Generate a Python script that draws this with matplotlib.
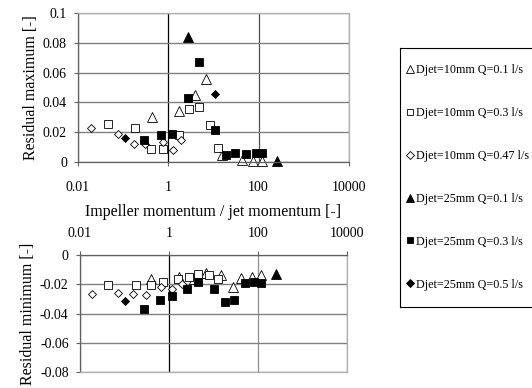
import matplotlib
matplotlib.use('Agg')
import matplotlib.pyplot as plt
from matplotlib.lines import Line2D

plt.rcParams['font.family'] = ['Liberation Serif', 'DejaVu Serif']

labels = ['Djet=10mm Q=0.1 l/s', 'Djet=10mm Q=0.3 l/s', 'Djet=10mm Q=0.47 l/s',
          'Djet=25mm Q=0.1 l/s', 'Djet=25mm Q=0.3 l/s', 'Djet=25mm Q=0.5 l/s']

# residual maximum (top panel)
max_tri_open_x = [0.43, 1.7, 3.85, 6.9, 15.5, 43, 75, 117]
max_tri_open_y = [0.030, 0.034, 0.045, 0.056, 0.0045, 0.0016, 0.0007, 0.0007]
max_sq_open_x = [0.047, 0.185, 0.41, 0.75, 1.75, 2.93, 4.9, 8.3, 12.7]
max_sq_open_y = [0.0254, 0.0225, 0.009, 0.009, 0.018, 0.0355, 0.037, 0.0247, 0.0097]
max_dia_open_x = [0.019, 0.076, 0.175, 0.31, 0.75, 1.27, 1.95]
max_dia_open_y = [0.023, 0.019, 0.012, 0.012, 0.0135, 0.0079, 0.015]
max_tri_fill_x = [2.7, 260]
max_tri_fill_y = [0.0836, 0.0007]
max_sq_fill_x = [0.29, 0.69, 1.21, 2.69, 4.9, 10.7, 19, 30, 54, 86, 121]
max_sq_fill_y = [0.0146, 0.018, 0.0187, 0.0428, 0.0674, 0.0214, 0.0045, 0.0057, 0.0052, 0.0063, 0.0063]
max_dia_fill_x = [0.11, 11]
max_dia_fill_y = [0.0158, 0.0455]

# residual minimum (bottom panel)
min_tri_open_x = [0.40, 1.7, 3.6, 6.9, 15, 27, 42, 73, 115]
min_tri_open_y = [-0.0161, -0.0148, -0.0161, -0.012, -0.0137, -0.0219, -0.0155, -0.0148, -0.0137]
min_sq_open_x = [0.044, 0.18, 0.40, 0.73, 1.59, 2.9, 4.6, 8.2, 12.6]
min_sq_open_y = [-0.0207, -0.0207, -0.0205, -0.0185, -0.0166, -0.0148, -0.0132, -0.0137, -0.0166]
min_dia_open_x = [0.019, 0.074, 0.16, 0.30, 0.68, 1.19, 2.0]
min_dia_open_y = [-0.0264, -0.0257, -0.0268, -0.0275, -0.0219, -0.023, -0.0195]
min_tri_fill_x = [257]
min_tri_fill_y = [-0.0132]
min_sq_fill_x = [0.28, 0.64, 1.17, 2.6, 4.5, 10.2, 18.5, 29, 52, 84, 115]
min_sq_fill_y = [-0.0367, -0.0308, -0.028, -0.0235, -0.0185, -0.0235, -0.0321, -0.031, -0.0193, -0.0182, -0.019]
min_dia_fill_x = [0.105]
min_dia_fill_y = [-0.0317]

x_ticks = [0.01, 1, 100, 10000]
x_ticklabels = ['0.01', '1', '100', '10000']
max_yticks = [0, 0.02, 0.04, 0.06, 0.08, 0.1]
max_yticklabels = ['0', '0.02', '0.04', '0.06', '0.08', '0.1']
min_yticks = [0, -0.02, -0.04, -0.06, -0.08]
min_yticklabels = ['0', '-0.02', '-0.04', '-0.06', '-0.08']

styles = [('^', 'white', 6.5), ('s', 'white', 6), ('D', 'white', 4.5),
          ('^', 'black', 6.5), ('s', 'black', 6), ('D', 'black', 4.5)]

fig = plt.figure(figsize=(5.32, 3.88), dpi=100)
ax1 = fig.add_axes([0.1466, 0.5825, 0.509, 0.384])
ax2 = fig.add_axes([0.150, 0.0412, 0.502, 0.3015])


def style_axes(ax, yticks, yticklabels, ylim, xpad):
    ax.set_xscale('log')
    ax.set_xlim(0.01, 10000)
    ax.set_ylim(*ylim)
    ax.set_xticks(x_ticks)
    ax.set_xticklabels(x_ticklabels)
    ax.xaxis.set_minor_locator(matplotlib.ticker.NullLocator())
    ax.set_yticks(yticks)
    ax.set_yticklabels(yticklabels)
    ax.tick_params(labelsize=10, length=3, width=0.8, color='#606060')
    ax.tick_params(axis='y', pad=5)
    ax.tick_params(axis='x', pad=xpad)
    ax.set_axisbelow(True)
    ax.grid(axis='y', color='#808080', lw=1.0)
    ax.grid(axis='x', color='#505050', lw=0.9)
    ax.get_xgridlines()[1].set_color('black')
    for s in ax.spines.values():
        s.set_color('#b0b0b0')
        s.set_linewidth(0.9)
    ax.spines['left'].set_color('#606060')


def plot_set(ax, data):
    for (xs, ys), (m, fc, ms) in zip(data, styles):
        ax.plot(xs, ys, ls='none', marker=m, mfc=fc, mec='black', ms=ms, mew=0.6, clip_on=False)


style_axes(ax1, max_yticks, max_yticklabels, (0, 0.1), 11)
ax1.spines['bottom'].set_color('#606060')
plot_set(ax1, [(max_tri_open_x, max_tri_open_y), (max_sq_open_x, max_sq_open_y),
               (max_dia_open_x, max_dia_open_y), (max_tri_fill_x, max_tri_fill_y),
               (max_sq_fill_x, max_sq_fill_y), (max_dia_fill_x, max_dia_fill_y)])
ax1.set_ylabel('Residual maximum [-]', fontsize=11.5, labelpad=3)
ax1.set_xlabel('Impeller momentum / jet momentum [-]', fontsize=11.5, labelpad=7)

style_axes(ax2, min_yticks, min_yticklabels, (-0.08, 0), 7.5)
ax2.xaxis.tick_top()
ax2.spines['top'].set_color('#606060')
ax2.get_xgridlines()[2].set_color('#909090')
plot_set(ax2, [(min_tri_open_x, min_tri_open_y), (min_sq_open_x, min_sq_open_y),
               (min_dia_open_x, min_dia_open_y), (min_tri_fill_x, min_tri_fill_y),
               (min_sq_fill_x, min_sq_fill_y), (min_dia_fill_x, min_dia_fill_y)])
ax2.set_ylabel('Residual minimum [-]', fontsize=11.5, labelpad=3)

# legend box
axl = fig.add_axes([400 / 532, 1 - 307 / 388, 0.3, (307 - 48) / 388])
axl.set_xticks([])
axl.set_yticks([])
for s in axl.spines.values():
    s.set_color('black')
    s.set_linewidth(0.8)
handles = [Line2D([], [], ls='none', marker=m, mfc=fc, mec='black', ms=ms * 0.8, mew=0.6)
           for (m, fc, ms) in styles]
axl.legend(handles, labels, loc='center left', bbox_to_anchor=(0.0, 0.5), frameon=False,
           fontsize=8.7, handlelength=0.6, handletextpad=0.2, labelspacing=2.55,
           borderaxespad=0.15)

fig.savefig('out.png', dpi=100)
